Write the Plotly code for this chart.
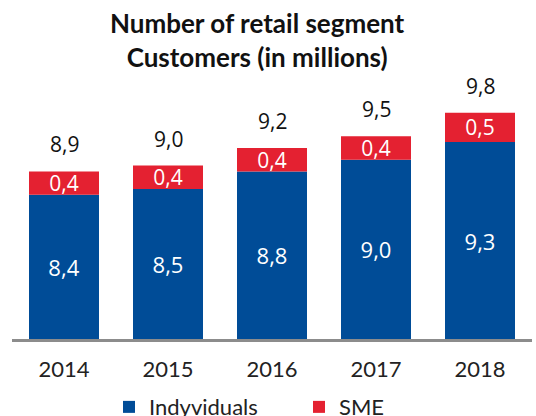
import plotly.graph_objects as go

# Retail segment customers, millions
years = ["2014", "2015", "2016", "2017", "2018"]
individuals = [8.4, 8.5, 8.8, 9.0, 9.3]
sme = [0.4, 0.4, 0.4, 0.4, 0.5]
totals = [8.9, 9.0, 9.2, 9.5, 9.8]

# value axis is cut: it starts at AXIS_FLOOR instead of zero
AXIS_FLOOR = 5.94
AXIS_TOP = 10.53

BLUE = "#004C97"
RED = "#E42131"
NUM_FONT = "Open Sans"
TXT_FONT = "Lato"


def fmt(v):
    return f"{v:.1f}".replace(".", ",")


fig = go.Figure()
# individuals: bars rise from the axis floor up to their value
fig.add_trace(go.Bar(
    x=years, base=AXIS_FLOOR, y=[v - AXIS_FLOOR for v in individuals],
    name="Indyviduals",
    marker=dict(color=BLUE, line=dict(width=0)),
    text=[fmt(v) for v in individuals],
    textposition="inside", insidetextanchor="middle",
    constraintext="none", textangle=0,
    textfont=dict(family=NUM_FONT, size=22, color="white"),
    hoverinfo="skip",
))
# SME: stacked on top of individuals
fig.add_trace(go.Bar(
    x=years, base=individuals, y=sme, name="SME",
    marker=dict(color=RED, line=dict(width=0)),
    text=[fmt(v) for v in sme],
    textposition="inside", insidetextanchor="middle",
    constraintext="none", textangle=0,
    textfont=dict(family=NUM_FONT, size=21, color="white"),
    hoverinfo="skip",
))

# total labels above each stack (category index positions)
for i, (a, b, t) in enumerate(zip(individuals, sme, totals)):
    fig.add_annotation(
        x=i, y=a + b, text=fmt(t), showarrow=False,
        yanchor="middle", yshift=27,
        font=dict(family=NUM_FONT, size=21, color="#111111"),
    )

# two-line heading
fig.add_annotation(
    text="Number of retail segment<br>Customers (in millions)",
    xref="paper", yref="paper", x=0.472, y=1.24,
    xanchor="center", yanchor="top", showarrow=False,
    font=dict(family=TXT_FONT, size=26, color="#111111", weight="bold"),
)

fig.update_layout(
    width=536, height=416,
    margin=dict(l=12, r=4, t=70, b=77, autoexpand=False),
    barmode="overlay", bargap=0.327,
    plot_bgcolor="white", paper_bgcolor="white",
    xaxis=dict(
        type="category", range=[-0.5, 4.5],
        showline=True, linecolor="#8C8C8C", linewidth=3,
        ticks="", showgrid=False, zeroline=False, ticklabelstandoff=9,
        tickfont=dict(family=TXT_FONT, size=22, color="#222222"),
    ),
    yaxis=dict(visible=False, range=[AXIS_FLOOR, AXIS_TOP], showgrid=False),
    legend=dict(
        orientation="h", x=0.1865, xanchor="left",
        y=-0.175, yanchor="top",
        entrywidth=145, entrywidthmode="pixels",
        font=dict(family=TXT_FONT, size=22, color="#222222"),
        traceorder="normal",
    ),
    showlegend=True,
)

fig.write_html("out.html")
